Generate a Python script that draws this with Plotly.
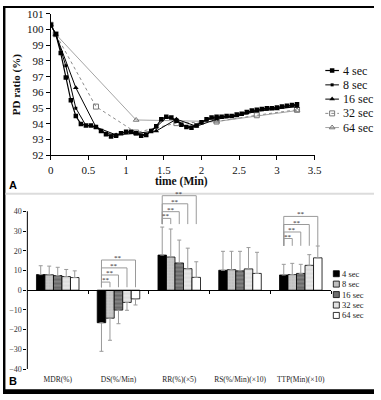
import plotly.graph_objects as go

W, H = 381, 400

# ---------------- Panel A data ----------------
series_names = ["4 sec", "8 sec", "16 sec", "32 sec", "64 sec"]

t_4 = [0, 0.067, 0.133, 0.2, 0.267, 0.333, 0.4, 0.467, 0.533, 0.6, 0.667, 0.733, 0.8, 0.867,
       0.933, 1.0, 1.067, 1.133, 1.2, 1.267, 1.333, 1.4, 1.467, 1.533, 1.6, 1.667, 1.733, 1.8,
       1.867, 1.933, 2.0, 2.067, 2.133, 2.2, 2.267, 2.333, 2.4, 2.467, 2.533, 2.6, 2.667, 2.733,
       2.8, 2.867, 2.933, 3.0, 3.067, 3.133, 3.2, 3.267]
v_4 = [100.3, 99.7, 98.5, 96.95, 95.5, 94.5, 94.0, 93.9, 93.9, 93.8, 93.55, 93.35, 93.2, 93.25,
       93.4, 93.5, 93.5, 93.4, 93.25, 93.3, 93.55, 93.85, 94.3, 94.45, 94.4, 94.2, 93.95, 93.8,
       93.75, 93.9, 94.1, 94.3, 94.4, 94.45, 94.45, 94.5, 94.5, 94.6, 94.65, 94.75, 94.85, 94.9,
       94.95, 95.0, 95.0, 95.05, 95.1, 95.15, 95.2, 95.25]

t_8 = [0, 0.067, 0.2, 0.333, 0.467, 0.6, 0.733, 0.867, 1.0, 1.133, 1.267, 1.4, 1.533, 1.667,
       1.8, 1.933, 2.067, 2.2, 2.333, 2.467, 2.6, 2.733, 2.867, 3.0, 3.133, 3.267]
v_8 = [100.3, 99.7, 97.7, 95.0, 93.9, 93.8, 93.4, 93.3, 93.5, 93.4, 93.3, 93.8, 94.4, 94.25,
       93.8, 93.9, 94.25, 94.4, 94.45, 94.55, 94.7, 94.85, 94.95, 95.0, 95.1, 95.2]

t_16 = [0, 0.067, 0.333, 0.6, 0.867, 1.133, 1.4, 1.667, 1.933, 2.2, 2.467, 2.733, 3.0, 3.267]
v_16 = [100.3, 99.7, 96.3, 93.8, 93.3, 93.4, 93.55, 94.3, 93.85, 94.3, 94.5, 94.8, 94.95, 95.1]

t_32 = [0, 0.067, 0.6, 1.133, 1.667, 2.2, 2.733, 3.267]
v_32 = [100.3, 99.7, 95.1, 93.45, 94.05, 94.15, 94.55, 94.9]

t_64 = [0, 0.067, 1.133, 2.2, 3.267]
v_64 = [100.3, 99.7, 94.25, 94.15, 94.85]

x_ticks_a = [0, 0.5, 1, 1.5, 2, 2.5, 3, 3.5]
x_ticktext_a = ["0", "0.5", "1", "1.5", "2", "2.5", "3", "3.5"]
y_ticks_a = [92, 93, 94, 95, 96, 97, 98, 99, 100, 101]

# ---------------- Panel B data ----------------
categories = ["MDR(%)", "DS(%/Min)", "RR(%)(×5)", "RS(%/Min)(×10)", "TTP(Min)(×10)"]

bar_4 = [7.9, -16.5, 17.8, 10.1, 7.7]
bar_8 = [7.8, -14.2, 16.8, 10.4, 7.9]
bar_16 = [7.4, -10.1, 13.8, 9.8, 8.5]
bar_32 = [6.9, -6.2, 10.9, 10.8, 12.6]
bar_64 = [6.4, -4.4, 6.5, 8.5, 16.4]

err_4 = [4.5, 14.5, 14.2, 9.6, 5.4]
err_8 = [4.4, 11.2, 14.2, 9.3, 5.7]
err_16 = [4.2, 6.9, 11.6, 9.9, 4.6]
err_32 = [3.6, 4.0, 10.4, 10.8, 5.4]
err_64 = [3.4, 3.1, 7.9, 10.7, 6.0]

y_ticks_b = [-40, -30, -20, -10, 0, 10, 20, 30, 40]

# significance brackets: category index -> bracket heights (vs 8,16,32,64 sec)
bracket_cats = [1, 2, 4]
bracket_levels = [[4.1, 7.7, 11.3, 15.3],
                  [36.4, 39.8, 43.8, 47.9],
                  [26.2, 29.5, 33.3, 37.4]]
bracket_base = [1.5, 33.5, 22.5]
sig_label = "**"

# ---------------- styles ----------------
SERIF = "Liberation Serif"
SANS = "Liberation Sans"

line_styles = [
    dict(color="black", width=1.2),
    dict(color="black", width=1),
    dict(color="black", width=1),
    dict(color="#8a8a8a", width=1, dash="dot"),
    dict(color="#9a9a9a", width=0.9),
]
marker_styles = [
    dict(symbol="square", size=4.5, color="black"),
    dict(symbol="square", size=3, color="black"),
    dict(symbol="triangle-up", size=5, color="black"),
    dict(symbol="square-open", size=5, color="#777777", line=dict(width=1, color="#777777")),
    dict(symbol="triangle-up-open", size=5, color="#777777", line=dict(width=1, color="#777777")),
]
bar_markers = [
    dict(color="black"),
    dict(color="#c4c4c4", pattern=dict(shape=".", fgcolor="#a8a8a8", bgcolor="#c8c8c8", size=3, solidity=0.25)),
    dict(color="#6e6e6e", pattern=dict(shape="-", fgcolor="#a6a6a6", bgcolor="#6a6a6a", size=4, solidity=0.4)),
    dict(color="#e2e2e2", pattern=dict(shape="-", fgcolor="#c6c6c6", bgcolor="#e6e6e6", size=4, solidity=0.3)),
    dict(color="white"),
]
legend_b_colors = ["black", "#c0c0c0", "#6e6e6e", "#e2e2e2", "white"]

series_a = [(t_4, v_4), (t_8, v_8), (t_16, v_16), (t_32, v_32), (t_64, v_64)]
series_b = [(bar_4, err_4), (bar_8, err_8), (bar_16, err_16), (bar_32, err_32), (bar_64, err_64)]

fig = go.Figure()

# Panel A lines (draw longest-interval first so 4 sec is on top)
for i in reversed(range(len(series_a))):
    t, v = series_a[i]
    fig.add_trace(go.Scatter(x=t, y=v, mode="lines+markers", name=series_names[i],
                             line=line_styles[i], marker=marker_styles[i],
                             xaxis="x", yaxis="y", showlegend=False))

# Panel B bars
BARGAP = 0.3
n = len(series_b)
bw = (1 - BARGAP) / n
xcat = list(range(len(categories)))
for i, (vals, errs) in enumerate(series_b):
    up = [e if v >= 0 else 0 for v, e in zip(vals, errs)]
    dn = [e if v < 0 else 0 for v, e in zip(vals, errs)]
    mk = dict(bar_markers[i])
    mk["line"] = dict(color="black", width=0.8)
    fig.add_trace(go.Bar(x=xcat, y=vals, name=series_names[i], marker=mk,
                         error_y=dict(type="data", symmetric=False, array=up, arrayminus=dn,
                                      color="#9a9a9a", thickness=1, width=2),
                         xaxis="x2", yaxis="y2", showlegend=False))

# significance brackets
for c, levels, base in zip(bracket_cats, bracket_levels, bracket_base):
    x0 = c + (0 - (n - 1) / 2) * bw
    for j, h in enumerate(levels, start=1):
        xj = c + (j - (n - 1) / 2) * bw
        fig.add_trace(go.Scatter(x=[x0, x0, xj, xj], y=[base, h, h, base], mode="lines",
                                 line=dict(color="#9a9a9a", width=1), xaxis="x2", yaxis="y2",
                                 showlegend=False, hoverinfo="skip"))
        fig.add_annotation(x=(x0 + xj) / 2, y=h, xref="x2", yref="y2", text=sig_label,
                           showarrow=False, yanchor="middle", yshift=2,
                           font=dict(family=SERIF, size=7, color="#222"))

# invisible trace for zero-line axis
fig.add_trace(go.Scatter(x=[0], y=[0], mode="markers", marker=dict(opacity=0), xaxis="x3", yaxis="y2",
                         showlegend=False, hoverinfo="skip"))

# custom legends in pixel-coordinate overlay axes
leg_a_y = [66.5, 81.3, 96.0, 110.7, 125.3]
leg_b_y = [276.0, 286.7, 297.5, 308.3, 319.0]
for i in range(n):
    fig.add_trace(go.Scatter(x=[331, 345], y=[leg_a_y[i]] * 2, mode="lines", line=line_styles[i],
                             xaxis="x4", yaxis="y4", showlegend=False, hoverinfo="skip"))
    fig.add_trace(go.Scatter(x=[338], y=[leg_a_y[i]], mode="markers", marker=marker_styles[i],
                             xaxis="x4", yaxis="y4", showlegend=False, hoverinfo="skip"))
    fig.add_annotation(x=347, y=leg_a_y[i], xref="x4", yref="y4", text=series_names[i],
                       showarrow=False, xanchor="left", yanchor="middle",
                       font=dict(family=SERIF, size=12, color="#111"))
    fig.add_trace(go.Scatter(x=[342.3], y=[leg_b_y[i]], mode="markers",
                             marker=dict(symbol="square", size=6, color=legend_b_colors[i],
                                         line=dict(color="black", width=0.8)),
                             xaxis="x4", yaxis="y4", showlegend=False, hoverinfo="skip"))
    fig.add_annotation(x=346.5, y=leg_b_y[i], xref="x4", yref="y4", text=series_names[i],
                       showarrow=False, xanchor="left", yanchor="middle",
                       font=dict(family=SERIF, size=8.5, color="#222"))

# layout geometry (pixel based)
def px_x(p):
    return p / W

def px_y(p):
    return 1 - p / H

yb_range = [-40, 50]
yb_dom = [px_y(374.3), px_y(191.3)]
zero_pos = yb_dom[0] + (0 - yb_range[0]) / (yb_range[1] - yb_range[0]) * (yb_dom[1] - yb_dom[0])

tickfont_a = dict(family=SERIF, size=11, color="#111")
tickfont_b = dict(family=SERIF, size=8, color="#333")

fig.update_layout(
    width=W, height=H, margin=dict(l=0, r=0, t=0, b=0),
    paper_bgcolor="white", plot_bgcolor="rgba(0,0,0,0)",
    barmode="group", bargap=BARGAP, bargroupgap=0,
    xaxis=dict(domain=[px_x(49), px_x(320)], range=[0, 3.5], tickvals=x_ticks_a, ticktext=x_ticktext_a,
               showline=True, linecolor="black", linewidth=1, ticks="outside", ticklen=4,
               tickcolor="black", showgrid=False, zeroline=False, tickfont=tickfont_a, anchor="y"),
    yaxis=dict(domain=[px_y(154), px_y(8)], range=[92, 101], tickvals=y_ticks_a,
               showline=True, linecolor="black", linewidth=1, ticks="outside", ticklen=4,
               tickcolor="black", showgrid=False, zeroline=False, tickfont=tickfont_a, anchor="x"),
    xaxis2=dict(domain=[px_x(25), px_x(337)], range=[-0.5, 4.5], tickvals=xcat, ticktext=categories,
                showline=False, ticks="", showgrid=False, zeroline=False, anchor="y2",
                tickfont=dict(family=SERIF, size=7.5, color="#222"), ticklabelstandoff=4),
    xaxis3=dict(domain=[px_x(25), px_x(337)], range=[-0.5, 4.5], overlaying="x2", anchor="free",
                position=zero_pos, tickvals=[0.5, 1.5, 2.5, 3.5, 4.5], showticklabels=False,
                showline=True, linecolor="black", linewidth=1, ticks="outside", ticklen=3,
                tickcolor="black", showgrid=False, zeroline=False),
    yaxis2=dict(domain=yb_dom, range=yb_range, tickvals=y_ticks_b, showline=False, ticks="outside",
                ticklen=3, tickcolor="black", showgrid=False, zeroline=False, tickfont=tickfont_b,
                anchor="x2"),
    xaxis4=dict(domain=[0, 1], range=[0, W], visible=False, anchor="y4", fixedrange=True),
    yaxis4=dict(domain=[0, 1], range=[H, 0], visible=False, anchor="x4", fixedrange=True),
)

# axis titles and panel labels
fig.add_annotation(x=px_x(14), y=px_y(81), xref="paper", yref="paper", text="<b>PD ratio (%)</b>",
                   textangle=-90, showarrow=False, xanchor="center", yanchor="middle",
                   font=dict(family=SERIF, size=11, color="#111"))
fig.add_annotation(x=px_x(183), y=px_y(181), xref="paper", yref="paper", text="<b>time (Min)</b>",
                   showarrow=False, xanchor="center", yanchor="middle",
                   font=dict(family=SERIF, size=11.5, color="#111"))
fig.add_annotation(x=px_x(4), y=px_y(184.5), xref="paper", yref="paper", text="<b>A</b>",
                   showarrow=False, xanchor="left", yanchor="middle",
                   font=dict(family=SANS, size=11, color="black"))
fig.add_annotation(x=px_x(4), y=px_y(386.5), xref="paper", yref="paper", text="<b>B</b>",
                   showarrow=False, xanchor="left", yanchor="middle",
                   font=dict(family=SANS, size=11, color="black"))

# frame decorations and B y-axis line
shapes = [
    dict(type="line", xref="x2 domain", yref="y2", x0=0, x1=0, y0=-40, y1=40,
         line=dict(color="black", width=1)),
    dict(type="rect", xref="paper", yref="paper", x0=0, x1=px_x(2.5), y0=0, y1=1,
         fillcolor="black", line=dict(width=0)),
    dict(type="rect", xref="paper", yref="paper", x0=0, x1=1, y0=px_y(2), y1=1,
         fillcolor="black", line=dict(width=0)),
    dict(type="rect", xref="paper", yref="paper", x0=0, x1=1, y0=0, y1=px_y(395),
         fillcolor="black", line=dict(width=0)),
    dict(type="rect", xref="paper", yref="paper", x0=px_x(2.5), x1=1, y0=px_y(194.5), y1=px_y(192.5),
         fillcolor="#dcdcdc", line=dict(width=0)),
]
fig.update_layout(shapes=shapes)

fig.write_html("out.html", config={"displayModeBar": False},
               post_script="document.body.style.margin='0px';")
